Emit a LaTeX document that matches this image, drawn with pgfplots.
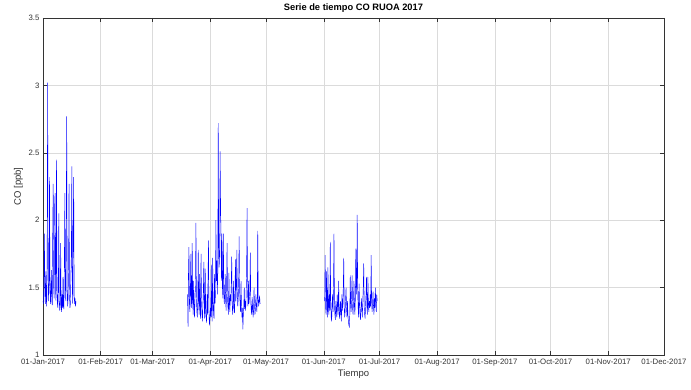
\documentclass[border=0pt]{standalone}
\usepackage{fontspec}
\setmainfont{Liberation Sans}
\usepackage{pgfplots}
\pgfplotsset{compat=1.18}
\definecolor{axgray}{gray}{0.2}
\definecolor{gridgray}{gray}{0.86}
\begin{document}
\begin{tikzpicture}
\useasboundingbox (-43pt,-35pt) rectangle (648pt,355pt);
\begin{axis}[
  at={(0pt,0pt)}, anchor=south west,
  scale only axis, width=621pt, height=337pt,
  xmin=0, xmax=334, ymin=1, ymax=3.5,
  xtick={0,31,59,90,120,151,181,212,243,273,304,334},
  xticklabels={01-Jan-2017,01-Feb-2017,01-Mar-2017,01-Apr-2017,01-May-2017,01-Jun-2017,01-Jul-2017,01-Aug-2017,01-Sep-2017,01-Oct-2017,01-Nov-2017,01-Dec-2017},
  ytick={1,1.5,2,2.5,3,3.5},
  yticklabels={1,1.5,2,2.5,3,3.5},
  /pgf/number format/assume math mode=true,
  grid=major,
  major grid style={gridgray, line width=0.4pt},
  tick align=inside,
  tick pos=both,
  xticklabel pos=lower, yticklabel pos=left,
  major tick length=4pt,
  axis line style={axgray, line width=0.5pt},
  tick style={axgray, line width=0.5pt},
  ticklabel style={font=\fontsize{7.8}{8.5}\selectfont, text=axgray},
  xticklabel style={yshift=-0.5pt},
  title={Serie de tiempo CO RUOA 2017},
  title style={font=\fontsize{9.3}{10}\selectfont\bfseries, text=black, yshift=-4pt},
  xlabel={Tiempo}, ylabel={CO [ppb]},
  label style={font=\fontsize{9.5}{10}\selectfont, text=axgray},
  xlabel style={yshift=3pt},
  ylabel style={yshift=-1pt},
]
\addplot[blue, line width=0.45pt, mark=none] coordinates {
(0.00,1.40)(0.25,1.38)(0.50,1.55)(0.75,1.90)(1.00,1.45)(1.25,1.38)(1.50,1.62)(1.75,1.42)
(2.00,1.36)(2.25,1.78)(2.50,3.02)(2.75,1.60)(3.00,1.40)(3.25,1.52)(3.50,2.32)(3.75,1.55)
(4.00,1.38)(4.25,1.45)(4.50,1.63)(4.75,1.40)(5.00,1.37)(5.25,1.95)(5.50,2.27)(5.75,1.50)
(6.00,1.42)(6.25,2.10)(6.50,2.20)(6.75,1.48)(7.00,1.40)(7.25,2.45)(7.50,1.62)(7.75,1.38)
(8.00,1.35)(8.25,1.48)(8.50,2.05)(8.75,1.40)(9.00,1.33)(9.25,1.36)(9.50,1.83)(9.75,1.38)
(10.00,1.32)(10.25,1.45)(10.50,1.35)(10.75,1.58)(11.00,1.36)(11.25,1.34)(11.50,1.70)(11.75,2.20)
(12.00,1.52)(12.25,1.40)(12.50,1.95)(12.75,2.77)(13.00,1.48)(13.25,1.36)(13.50,1.42)(13.75,1.65)
(14.00,2.27)(14.25,1.45)(14.50,1.35)(14.75,1.38)(15.00,1.60)(15.25,1.75)(15.50,2.40)(15.75,1.50)
(16.00,1.38)(16.25,1.95)(16.50,2.32)(16.75,1.45)(17.00,1.38)(17.25,1.42)(17.50,1.36)(17.75,1.40)
};
\addplot[blue, line width=0.45pt, mark=none] coordinates {
(77.75,1.45)(78.00,1.21)(78.25,1.62)(78.50,1.80)(78.75,1.38)(79.00,1.32)(79.25,1.45)(79.50,1.75)
(79.75,1.40)(80.00,1.35)(80.25,1.83)(80.50,1.42)(80.75,1.30)(81.00,1.55)(81.25,1.36)(81.50,1.28)
(81.75,1.42)(82.00,1.50)(82.25,1.98)(82.50,1.45)(82.75,1.32)(83.00,1.28)(83.25,1.40)(83.50,1.78)
(83.75,1.38)(84.00,1.30)(84.25,1.60)(84.50,1.35)(84.75,1.27)(85.00,1.75)(85.25,1.40)(85.50,1.30)
(85.75,1.25)(86.00,1.38)(86.25,1.48)(86.50,1.69)(86.75,1.33)(87.00,1.27)(87.25,1.64)(87.50,1.35)
(87.75,1.28)(88.00,1.24)(88.25,1.45)(88.50,1.30)(88.75,1.55)(89.00,1.85)(89.25,1.32)(89.50,1.22)
(89.75,1.26)(90.00,1.35)(90.25,1.28)(90.50,1.67)(90.75,1.32)(91.00,1.25)(91.25,1.72)(91.50,1.40)
(91.75,1.30)(92.00,1.27)(92.25,1.60)(92.50,1.38)(92.75,1.45)(93.00,2.00)(93.25,1.55)(93.50,1.70)
(93.75,1.45)(94.00,1.60)(94.25,2.72)(94.50,1.80)(94.75,1.65)(95.00,1.75)(95.25,2.51)(95.50,2.13)
(95.75,1.85)(96.00,1.55)(96.25,1.90)(96.50,1.50)(96.75,1.42)(97.00,1.90)(97.25,1.48)(97.50,1.38)
(97.75,1.45)(98.00,1.60)(98.25,1.40)(98.50,1.33)(98.75,1.50)(99.00,1.83)(99.25,1.42)(99.50,1.35)
(99.75,1.30)(100.00,1.61)(100.25,1.38)(100.50,1.32)(100.75,1.45)(101.00,1.40)(101.25,1.52)(101.50,1.73)
(101.75,1.38)(102.00,1.30)(102.25,1.35)(102.50,1.55)(102.75,1.37)(103.00,1.31)(103.25,1.45)(103.50,1.71)
(103.75,1.40)(104.00,1.50)(104.25,1.78)(104.50,1.45)(104.75,1.36)(105.00,1.42)(105.25,1.55)(105.50,1.88)
(105.75,1.48)(106.00,1.38)(106.25,1.32)(106.50,1.55)(106.75,1.36)(107.00,1.28)(107.25,1.35)(107.50,1.19)
(107.75,1.30)(108.00,1.36)(108.25,1.50)(108.50,1.34)(108.75,1.40)(109.00,1.33)(109.25,1.45)(109.50,1.60)
(109.75,2.09)(110.00,1.48)(110.25,1.36)(110.50,1.55)(110.75,1.38)(111.00,1.42)(111.25,1.48)(111.50,1.76)
(111.75,1.40)(112.00,1.33)(112.25,1.30)(112.50,1.43)(112.75,1.35)(113.00,1.28)(113.25,1.32)(113.50,1.50)
(113.75,1.38)(114.00,1.30)(114.25,1.34)(114.50,1.45)(114.75,1.37)(115.00,1.32)(115.25,1.40)(115.50,1.92)
(115.75,1.42)(116.00,1.36)(116.25,1.40)(116.50,1.44)(116.75,1.38)
};
\addplot[blue, line width=0.45pt, mark=none] coordinates {
(151.50,1.40)(151.75,1.74)(152.00,1.35)(152.25,1.30)(152.50,1.62)(152.75,1.38)(153.00,1.28)(153.25,1.65)
(153.50,1.36)(153.75,1.30)(154.00,1.45)(154.25,1.33)(154.50,1.84)(154.75,1.40)(155.00,1.28)(155.25,1.25)
(155.50,1.38)(155.75,1.45)(156.00,1.32)(156.25,1.50)(156.50,1.90)(156.75,1.38)(157.00,1.30)(157.25,1.26)
(157.50,1.40)(157.75,1.34)(158.00,1.28)(158.25,1.45)(158.50,1.36)(158.75,1.30)(159.00,1.55)(159.25,1.35)
(159.50,1.27)(159.75,1.32)(160.00,1.40)(160.25,1.30)(160.50,1.25)(160.75,1.45)(161.00,1.33)(161.25,1.38)
(161.50,1.50)(161.75,1.72)(162.00,1.36)(162.25,1.28)(162.50,1.32)(162.75,1.42)(163.00,1.50)(163.25,1.35)
(163.50,1.28)(163.75,1.40)(164.00,1.30)(164.25,1.25)(164.50,1.22)(164.75,1.21)(165.00,1.30)(165.25,1.59)
(165.50,1.38)(165.75,1.32)(166.00,1.45)(166.25,1.59)(166.50,1.35)(166.75,1.30)(167.00,1.40)(167.25,1.55)
(167.50,1.36)(167.75,1.30)(168.00,1.42)(168.25,1.79)(168.50,1.45)(168.75,1.55)(169.00,2.04)(169.25,1.50)
(169.50,1.35)(169.75,1.28)(170.00,1.53)(170.25,1.38)(170.50,1.30)(170.75,1.26)(171.00,1.35)(171.25,1.42)
(171.50,1.33)(171.75,1.28)(172.00,1.40)(172.25,1.50)(172.50,1.68)(172.75,1.36)(173.00,1.30)(173.25,1.27)
(173.50,1.38)(173.75,1.45)(174.00,1.58)(174.25,1.35)(174.50,1.30)(174.75,1.58)(175.00,1.38)(175.25,1.32)
(175.50,1.40)(175.75,1.35)(176.00,1.45)(176.25,1.36)(176.50,1.74)(176.75,1.40)(177.00,1.32)(177.25,1.38)
(177.50,1.47)(177.75,1.36)(178.00,1.30)(178.25,1.42)(178.50,1.35)(178.75,1.50)(179.00,1.38)(179.25,1.32)
(179.50,1.45)(179.75,1.40)
};
\end{axis}
\end{tikzpicture}
\end{document}
